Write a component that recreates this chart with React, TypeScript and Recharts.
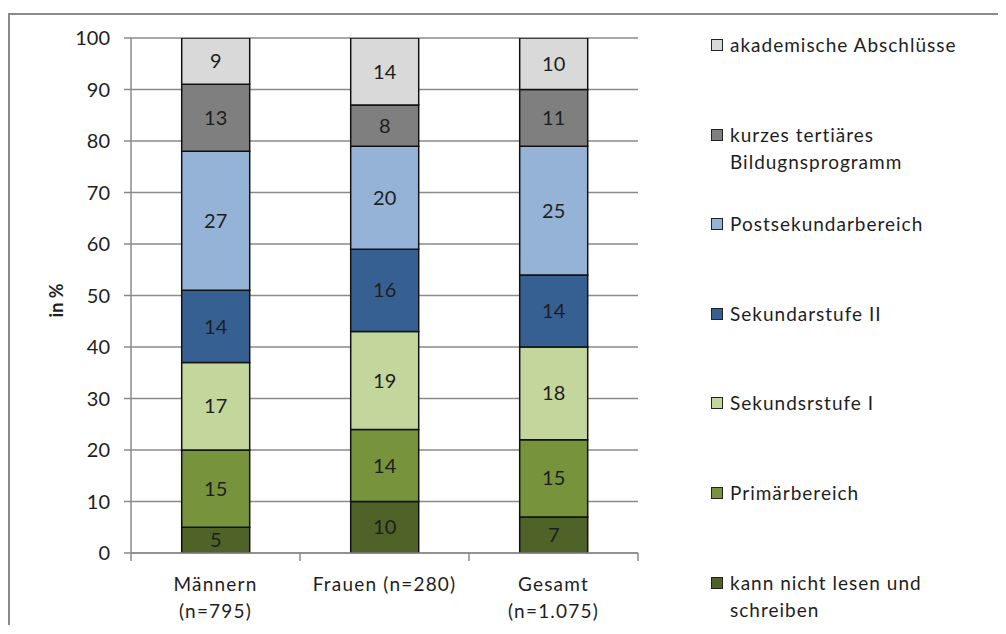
import { useLayoutEffect } from 'react';
import type { ReactNode } from 'react';
import { Bar, BarChart, CartesianGrid, LabelList, XAxis, YAxis } from 'recharts';

// categories, wrapped like the original axis labels
const categories = ['Männern\n(n=795)', 'Frauen (n=280)', 'Gesamt\n(n=1.075)'];

// shares in %, bottom segment first
const kannNichtLesen = [5, 10, 7];
const primarbereich = [15, 14, 15];
const sekundarstufeI = [17, 19, 18];
const sekundarstufeII = [14, 16, 14];
const postsekundar = [27, 20, 25];
const kurzesTertiar = [13, 8, 11];
const akademisch = [9, 14, 10];

const yTicks = [0, 10, 20, 30, 40, 50, 60, 70, 80, 90, 100];

const seriesNames = [
  'kann nicht lesen und schreiben',
  'Primärbereich',
  'Sekundsrstufe I',
  'Sekundarstufe II',
  'Postsekundarbereich',
  'kurzes tertiäres Bildugnsprogramm',
  'akademische Abschlüsse',
];
const seriesValues = [
  kannNichtLesen,
  primarbereich,
  sekundarstufeI,
  sekundarstufeII,
  postsekundar,
  kurzesTertiar,
  akademisch,
];
const seriesColors = ['#4f6228', '#77933c', '#c3d69b', '#376092', '#95b3d7', '#7f7f7f', '#d9d9d9'];

const data = categories.map((name, i) => {
  const row: Record<string, string | number> = { name };
  seriesValues.forEach((vals, s) => {
    row[`s${s}`] = vals[i];
  });
  return row;
});

const FONT = 'Lato, "Open Sans", sans-serif';
const TEXT = '#1e1e1e';
const GRID = '#8a8a8a';

function CategoryTick(props: any): ReactNode {
  const { x, y, payload, index } = props;
  const half = payload?.offset ?? 0;
  const lines = String(payload.value).split('\n');
  return (
    <g>
      <line x1={x - half} x2={x - half} y1={y} y2={y + 8} stroke={GRID} strokeWidth={1.5} />
      {index === categories.length - 1 && (
        <line x1={x + half} x2={x + half} y1={y} y2={y + 8} stroke={GRID} strokeWidth={1.5} />
      )}
      {lines.map((ln, i) => (
        <text
          key={ln}
          x={x}
          y={y + 30 + i * 27}
          textAnchor="middle"
          dominantBaseline="central"
          fill={TEXT}
          fontSize={19}
          letterSpacing={1.2}
          fontFamily={FONT}
        >
          {ln}
        </text>
      ))}
    </g>
  );
}

function AxisTitle(props: any): ReactNode {
  const vb = props.viewBox ?? {};
  const cx = vb.x - 15;
  const cy = vb.y + vb.height / 2 + 5;
  return (
    <text
      x={cx}
      y={cy}
      transform={`rotate(-90, ${cx}, ${cy})`}
      textAnchor="middle"
      dominantBaseline="central"
      fontWeight="bold"
      fontSize={18}
      fontFamily={FONT}
      fill={TEXT}
    >
      in %
    </text>
  );
}

export default function App(): ReactNode {
  // the frame runs off the right edge like in the original, so no scrollbars
  useLayoutEffect(() => {
    document.documentElement.style.overflow = 'hidden';
    document.body.style.overflow = 'hidden';
  }, []);

  const legendItems = seriesNames.map((n, i) => ({ name: n, color: seriesColors[i] })).reverse();

  return (
    <div style={{ paddingTop: 5 }}>
      <div
        style={{
          position: 'relative',
          width: 996,
          height: 610,
          overflow: 'hidden',
          borderTop: `2px solid ${GRID}`,
          borderLeft: `2px solid ${GRID}`,
          fontFamily: FONT,
          background: '#fff',
        }}
      >
        <BarChart
          width={996}
          height={610}
          data={data}
          barCategoryGap="30%"
          margin={{ top: 23, right: 368, left: 61, bottom: 12 }}
        >
          <CartesianGrid vertical={false} stroke={GRID} strokeWidth={1.5} />
          <XAxis
            dataKey="name"
            height={60}
            interval={0}
            tick={<CategoryTick />}
            tickLine={false}
            tickSize={0}
            tickMargin={0}
            axisLine={{ stroke: GRID, strokeWidth: 1.5 }}
          />
          <YAxis
            width={60}
            domain={[0, 100]}
            ticks={yTicks}
            allowDataOverflow
            tickSize={7}
            tickMargin={14}
            tick={{ fill: TEXT, fontSize: 20, fontFamily: FONT }}
            tickLine={{ stroke: GRID, strokeWidth: 1.5 }}
            axisLine={{ stroke: GRID, strokeWidth: 1.5 }}
            label={<AxisTitle />}
          />
          {seriesNames.map((n, s) => (
            <Bar
              key={n}
              dataKey={`s${s}`}
              name={n}
              stackId="a"
              fill={seriesColors[s]}
              stroke="#111"
              strokeWidth={1.5}
              isAnimationActive={false}
            >
              <LabelList
                dataKey={`s${s}`}
                position="center"
                fill={TEXT}
                fontSize={20}
                fontFamily={FONT}
              />
            </Bar>
          ))}
        </BarChart>

        <div style={{ position: 'absolute', left: 701, top: 16, width: 270 }}>
          {legendItems.map((it) => (
            <div key={it.name} style={{ position: 'relative', height: 89.6 }}>
              <span
                style={{
                  position: 'absolute',
                  left: 0,
                  top: 8,
                  width: 10,
                  height: 10,
                  background: it.color,
                  border: '1.5px solid #222',
                }}
              />
              <div
                style={{
                  marginLeft: 19,
                  width: 250,
                  fontSize: 19,
                  lineHeight: '27px',
                  letterSpacing: 1,
                  color: TEXT,
                }}
              >
                {it.name}
              </div>
            </div>
          ))}
        </div>
      </div>
    </div>
  );
}
